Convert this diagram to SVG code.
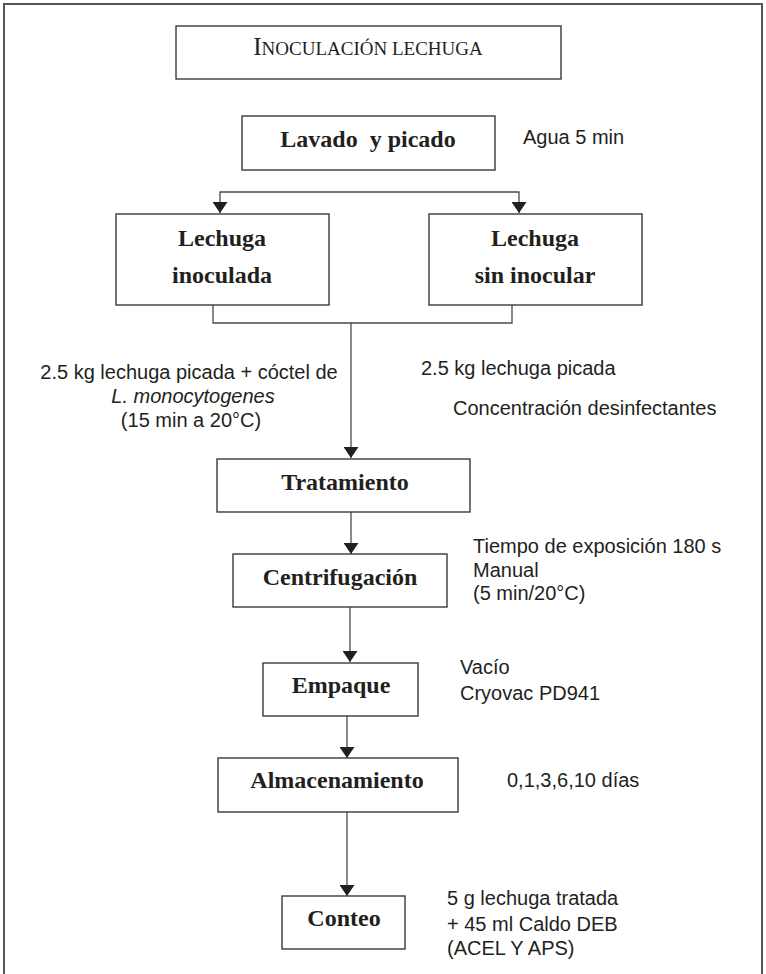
<svg xmlns="http://www.w3.org/2000/svg" width="766" height="974" viewBox="0 0 766 974">
<style>
  .box { fill: #ffffff; stroke: #3a3a3a; stroke-width: 1.4; }
  .lbl { font-family: "Liberation Serif", "Times New Roman", serif; font-weight: bold; font-size: 24px; fill: #231f20; text-anchor: middle; }
  .ttl { font-family: "Liberation Serif", "Times New Roman", serif; fill: #231f20; text-anchor: middle; }
  .note { font-family: "Liberation Sans", Arial, sans-serif; font-size: 20px; fill: #231f20; }
  .conn { fill: none; stroke: #4a4a4a; stroke-width: 1.3; }
</style>
<defs>
  <marker id="arr" markerUnits="userSpaceOnUse" markerWidth="11" markerHeight="15" refX="11" refY="7.5" orient="auto">
    <path d="M0,0 L11,7.5 L0,15 z" fill="#231f20"/>
  </marker>
</defs>
<path d="M4,974 V4 H762 V974" fill="none" stroke="#555555" stroke-width="2"/>

<g id="connectors">
  <path class="conn" d="M369,192 H220 V213" marker-end="url(#arr)"/>
  <path class="conn" d="M369,192 H519 V213" marker-end="url(#arr)"/>
  <path class="conn" d="M213,305 V323 H512 V305"/>
  <path class="conn" d="M351,323 V458" marker-end="url(#arr)"/>
  <path class="conn" d="M351,512 V554" marker-end="url(#arr)"/>
  <path class="conn" d="M350,607 V662" marker-end="url(#arr)"/>
  <path class="conn" d="M347,716 V758" marker-end="url(#arr)"/>
  <path class="conn" d="M347,812 V896" marker-end="url(#arr)"/>
</g>

<g id="n-inoculacion">
  <rect class="box" x="176" y="26" width="385" height="53"/>
  <text class="ttl" x="368" y="55"><tspan font-size="25">I</tspan><tspan font-size="19">NOCULACIÓN LECHUGA</tspan></text>
</g>

<g id="n-lavado">
  <rect class="box" x="242" y="116" width="253" height="54"/>
  <text class="lbl" x="368" y="147" xml:space="preserve">Lavado  y picado</text>
</g>
<text class="note" x="523" y="144">Agua 5 min</text>

<g id="n-inoculada">
  <rect class="box" x="116" y="214" width="213" height="91"/>
  <text class="lbl" x="222" y="246">Lechuga</text>
  <text class="lbl" x="222" y="283">inoculada</text>
</g>

<g id="n-sin-inocular">
  <rect class="box" x="429" y="214" width="213" height="91"/>
  <text class="lbl" x="535" y="246">Lechuga</text>
  <text class="lbl" x="535" y="283">sin inocular</text>
</g>

<text class="note" x="189" y="379" text-anchor="middle">2.5 kg lechuga picada + cóctel de</text>
<text class="note" x="193" y="403" text-anchor="middle"><tspan font-style="italic">L. monocytogenes</tspan></text>
<text class="note" x="191" y="427" text-anchor="middle">(15 min a 20°C)</text>
<text class="note" x="421" y="375">2.5 kg lechuga picada</text>
<text class="note" x="453" y="415">Concentración desinfectantes</text>

<g id="n-tratamiento">
  <rect class="box" x="217" y="459" width="253" height="53"/>
  <text class="lbl" x="345" y="490">Tratamiento</text>
</g>

<g id="n-centrifugacion">
  <rect class="box" x="233" y="554" width="214" height="53"/>
  <text class="lbl" x="340" y="585">Centrifugación</text>
</g>
<text class="note" x="473" y="553">Tiempo de exposición 180 s</text>
<text class="note" x="473" y="577">Manual</text>
<text class="note" x="473" y="600">(5 min/20°C)</text>

<g id="n-empaque">
  <rect class="box" x="263" y="663" width="155" height="53"/>
  <text class="lbl" x="341" y="693">Empaque</text>
</g>
<text class="note" x="460" y="674">Vacío</text>
<text class="note" x="460" y="700">Cryovac PD941</text>

<g id="n-almacenamiento">
  <rect class="box" x="218" y="758" width="240" height="54"/>
  <text class="lbl" x="337" y="788">Almacenamiento</text>
</g>
<text class="note" x="507" y="787">0,1,3,6,10 días</text>

<g id="n-conteo">
  <rect class="box" x="282" y="896" width="123" height="53"/>
  <text class="lbl" x="344" y="926">Conteo</text>
</g>
<text class="note" x="447" y="905">5 g lechuga tratada</text>
<text class="note" x="447" y="931">+ 45 ml Caldo DEB</text>
<text class="note" x="447" y="955">(ACEL Y APS)</text>
</svg>
